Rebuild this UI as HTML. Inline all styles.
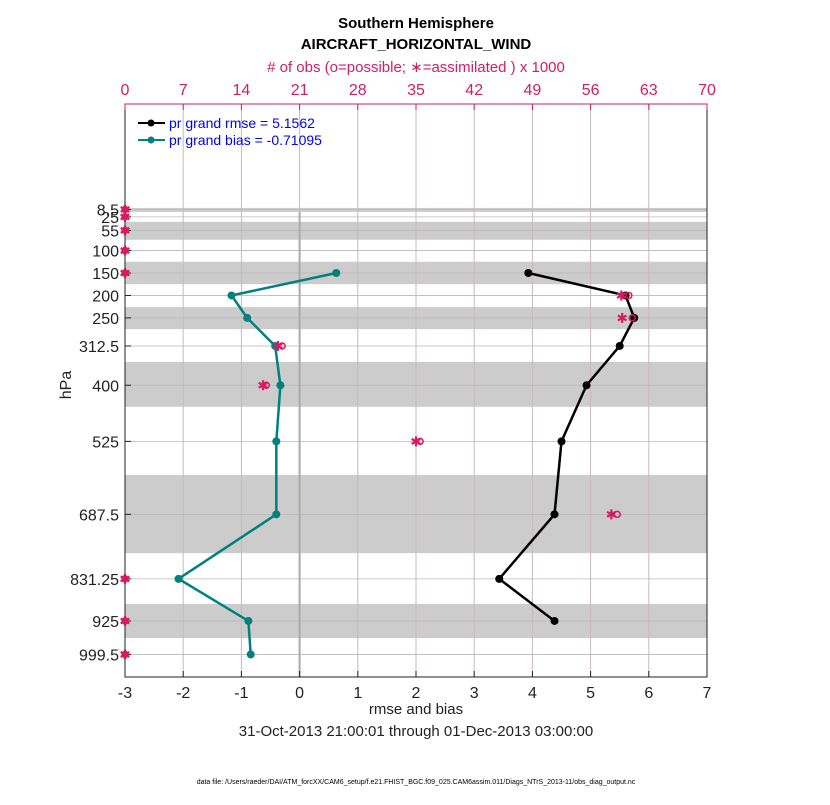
<!DOCTYPE html>
<html><head><meta charset="utf-8"><style>
body{margin:0;background:#fff;font-family:"Liberation Sans",Arial,sans-serif}
svg text{font-family:"Liberation Sans",Arial,sans-serif}
</style></head><body>
<svg id="chart" width="830" height="800" xmlns="http://www.w3.org/2000/svg">
<g id="g"></g>
</svg>
<script>
const levels=[8.5,25,55,100,150,200,250,312.5,400,525,687.5,831.25,925,999.5];
const levelLabels=["8.5","25","55","100","150","200","250","312.5","400","525","687.5","831.25","925","999.5"];
const bandTop=[5,36,125,226,348,600,887];
const bandBot=[14,76,175,275,448,774,963];
const rmseLev=[150,200,250,312.5,400,525,687.5,831.25,925];
const rmseVal=[3.93,5.6,5.75,5.5,4.93,4.5,4.38,3.43,4.38];
const biasLev=[150,200,250,312.5,400,525,687.5,831.25,925,999.5];
const biasVal=[0.63,-1.17,-0.9,-0.42,-0.33,-0.4,-0.4,-2.08,-0.88,-0.84];
const possVal=[0,0,0,0,0,60.6,61,18.9,17.0,35.5,59.2,0,0,0];
const assimVal=[0,0,0,0,0,59.7,59.8,18.4,16.6,35,58.5,0,0,0];
const xTicks=[-3,-2,-1,0,1,2,3,4,5,6,7];
const topTicks=[0,7,14,21,28,35,42,49,56,63,70];

const L=125,R=707,T=104,B=677;
const X=v=>L+(v+3)*(R-L)/10;
const XT=v=>L+v*(R-L)/70;
const Y=p=>273+(p-150)*0.449;
const NS="http://www.w3.org/2000/svg";
const g=document.getElementById('g');
function el(t,a,txt){const e=document.createElementNS(NS,t);for(const k in a)e.setAttribute(k,a[k]);if(txt!==undefined)e.textContent=txt;g.appendChild(e);return e;}

el('rect',{x:L,y:T,width:R-L,height:B-T,fill:'#fff'});
for(let i=0;i<bandTop.length;i++){
 const e=el('rect',{x:L,y:Y(bandTop[i]),width:R-L,height:Y(bandBot[i])-Y(bandTop[i]),fill:'#cccccc'});
 
 
}
xTicks.forEach(v=>{const e=el('line',{x1:X(v),x2:X(v),y1:T,y2:B,stroke:'#c8b8c0','stroke-width':1});
 });
levels.forEach(p=>{const e=el('line',{x1:L,x2:R,y1:Y(p),y2:Y(p),stroke:'#b8b8b8','stroke-width':0.8});
 });
{const e=el('line',{x1:X(0),x2:X(0),y1:Y(14),y2:B,stroke:'#aaaaaa','stroke-width':2});
 }
{const e=el('rect',{x:L,y:T,width:R-L,height:B-T,fill:'none',stroke:'#222','stroke-width':1});
 }
{const e=el('line',{x1:L,x2:R,y1:T,y2:T,stroke:'#d81b60','stroke-width':1});
 }
xTicks.forEach(v=>{el('line',{x1:X(v),x2:X(v),y1:B,y2:B-6,stroke:'#222'});
 const t=el('text',{x:X(v),y:B+21,'font-size':16,'text-anchor':'middle',fill:'#222'},v);
 });
topTicks.forEach(v=>{el('line',{x1:XT(v),x2:XT(v),y1:T,y2:T+6,stroke:'#d81b60'});
 const t=el('text',{x:XT(v),y:T-9,'font-size':16,'text-anchor':'middle',fill:'#d81b60'},v);
 });
levels.forEach((p,i)=>{el('line',{x1:L,x2:L+6,y1:Y(p),y2:Y(p),stroke:'#222'});
 const t=el('text',{x:L-6,y:Y(p)+6,'font-size':16,'text-anchor':'end',fill:'#222'},levelLabels[i]);
 });

function series(levs,vals,col,name){
 const pts=levs.map((p,i)=>X(vals[i])+','+Y(p)).join(' ');
 const l=el('polyline',{points:pts,fill:'none',stroke:col,'stroke-width':2.5});
 
 levs.forEach((p,i)=>{const c=el('circle',{cx:X(vals[i]),cy:Y(p),r:4,fill:col});
  });
}
series(rmseLev,rmseVal,'#000','rmse');
series(biasLev,biasVal,'#00807f','bias');

function star(cx,cy,r){
 let d='';
 for(let k=0;k<3;k++){const a=Math.PI/2+k*Math.PI/3;d+=`M${cx-r*Math.cos(a)},${cy-r*Math.sin(a)}L${cx+r*Math.cos(a)},${cy+r*Math.sin(a)}`;}
 return el('path',{d:d,stroke:'#d81b60','stroke-width':2.2,fill:'none'});
}
levels.forEach((p,i)=>{
 const c=el('circle',{cx:XT(possVal[i]),cy:Y(p),r:3,fill:'none',stroke:'#d81b60','stroke-width':1.5});
 
 const s=star(XT(assimVal[i]),Y(p),5);
 
});

[['#000','pr grand rmse = 5.1562',123],['#00807f','pr grand bias = -0.71095',140]].forEach((d,i)=>{
 el('line',{x1:138,x2:165,y1:d[2],y2:d[2],stroke:d[0],'stroke-width':2});
 el('circle',{cx:151,cy:d[2],r:3.5,fill:d[0]});
 const t=el('text',{x:169,y:d[2]+5,'font-size':14,fill:'#0000ff'},d[1]);
 
});

function txt(x,y,s,size,col,name,extra){const t=el('text',Object.assign({x:x,y:y,'font-size':size,'text-anchor':'middle',fill:col},extra||{}),s);
 return t;}
txt(416,28,'Southern Hemisphere',15,'#000','title',{'font-weight':'bold'});
txt(416,49,'AIRCRAFT_HORIZONTAL_WIND',15,'#000','subtitle',{'font-weight':'bold'});
txt(416,72,'# of obs (o=possible; ∗=assimilated ) x 1000',15,'#d81b60','top-axis-title');
txt(416,714,'rmse and bias',15,'#222','x-axis-title');
txt(416,736,'31-Oct-2013 21:00:01 through 01-Dec-2013 03:00:00',15,'#222','date-range');
txt(416,784,'data file: /Users/raeder/DAI/ATM_forcXX/CAM6_setup/f.e21.FHIST_BGC.f09_025.CAM6assim.011/Diags_NTrS_2013-11/obs_diag_output.nc',7,'#000','data-file-note');
txt(66,390,'hPa',16,'#222','y-axis-title',{transform:'rotate(-90 66 385)'});
</script>
</body></html>
